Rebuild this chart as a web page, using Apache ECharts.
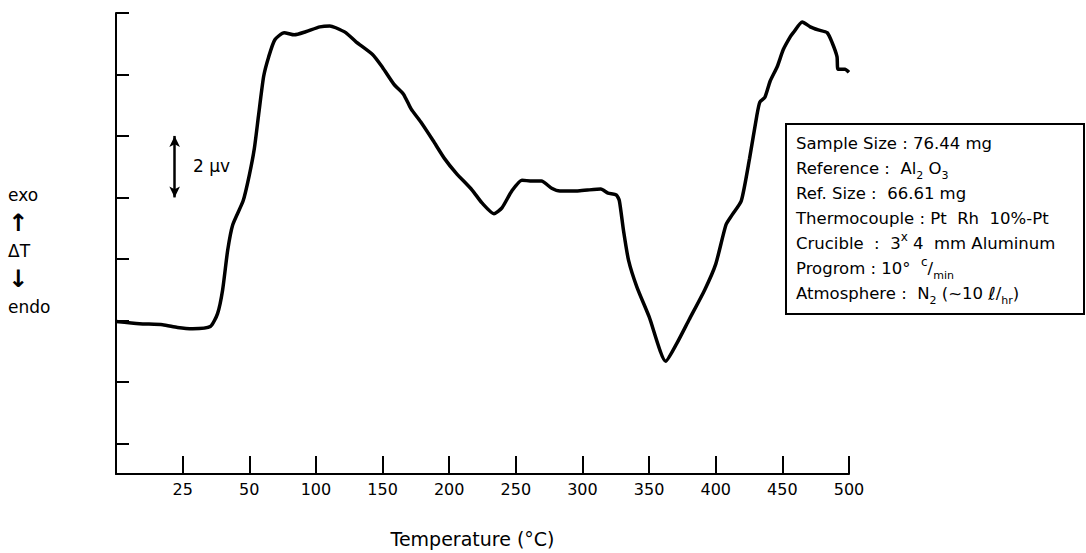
<!DOCTYPE html>
<html>
<head>
<meta charset="utf-8">
<script src="https://cdn.jsdelivr.net/npm/echarts@6/dist/echarts.min.js"></script>
<style>
  html, body { margin: 0; padding: 0; background: #fff; }
  #chart { width: 1086px; height: 553px; }
</style>
</head>
<body>
<div id="chart"></div>
<script>
// tick labels on the temperature axis (ticks are evenly spaced on the paper)
const tickTemps = [0, 25, 50, 100, 150, 200, 250, 300, 350, 400, 450, 500]
const tickLabels = ['', '25', '50', '100', '150', '200', '250', '300', '350', '400', '450', '500']

// DTA trace: temperature (°C) and ΔT (μV, 0 at the lowest tick)
const temps = [
  0, 8.8, 17.5, 23.1, 28.8, 35.4, 38.1, 40.0, 41.9, 43.8, 47.7, 50,
  53.8, 56.9, 60.8, 64.6, 69.2, 76.2, 83.8, 92.3, 103.0, 110.4, 114.9, 122.4,
  129.9, 142.5, 150, 158.6, 165.7, 171.4, 178.6, 187.9, 196.4, 205.2, 217.2, 224.6,
  233.6, 239.6, 247.0, 254.6, 262.3, 269.2, 276.9, 283.1, 296.2, 303.8, 313.8, 319.2,
  325.4, 327.7, 330.8, 334.6, 340.8, 350, 362.5, 370.8, 380, 391.7, 400, 407.7,
  412.3, 419.2, 425.4, 430.8, 433.1, 436.9, 440.8, 446.2, 450.7, 456.0, 458.2, 464.9,
  470.9, 476.9, 483.6, 487.3, 491.0, 491.8, 497.0, 500.5
]
const deltaT = [
  3.96, 3.89, 3.86, 3.77, 3.73, 3.80, 4.22, 4.99, 6.28, 7.11, 7.89, 8.72,
  9.59, 10.65, 11.94, 12.58, 13.13, 13.36, 13.29, 13.39, 13.55, 13.58, 13.52, 13.36,
  13.07, 12.65, 12.23, 11.68, 11.36, 10.88, 10.46, 9.85, 9.27, 8.79, 8.24, 7.82,
  7.47, 7.66, 8.21, 8.56, 8.53, 8.53, 8.30, 8.21, 8.21, 8.24, 8.27, 8.14,
  8.08, 7.89, 6.92, 5.95, 5.09, 4.12, 2.67, 3.25, 4.02, 4.99, 5.83, 7.11,
  7.43, 7.89, 9.27, 10.65, 11.10, 11.26, 11.78, 12.26, 12.81, 13.23, 13.36, 13.71,
  13.55, 13.45, 13.36, 13.04, 12.58, 12.17, 12.17, 12.07
]

// vertical ticks every 2 μV
const yTicks = [0, 2, 4, 6, 8, 10, 12, 14]

// 2 μV scale bar
const scaleBarTemp = 22
const scaleBarRange = [8, 10]

const infoLines = [
  'Sample Size : 76.44 mg',
  'Reference :  Al{sub|2} O{sub|3}',
  'Ref. Size :  66.61 mg',
  'Thermocouple : Pt  Rh  10%-Pt',
  'Crucible  :  3{sup|x} 4  mm Aluminum',
  'Progrom : 10°  {sup|c}/{sub|min}',
  'Atmosphere :  N{sub|2} (~10 {big|ℓ}/{sub|hr})'
]

// the printed axis is not linear in temperature: map onto tick positions
function tempToPos(t) {
  for (let i = 0; i < tickTemps.length - 1; i++) {
    if (t <= tickTemps[i + 1]) {
      return i + (t - tickTemps[i]) / (tickTemps[i + 1] - tickTemps[i])
    }
  }
  return tickTemps.length - 1
}

const seriesData = temps.map((t, i) => [tempToPos(t), deltaT[i]])

const font = "'DejaVu Sans', sans-serif"
const myChart = echarts.init(document.getElementById('chart'), null, { renderer: 'svg' })

const options = {
  animation: false,
  backgroundColor: '#fff',
  grid: { left: 116, right: 237, top: 13, bottom: 74, containLabel: false },
  xAxis: {
    type: 'value',
    min: 0,
    max: tickTemps.length - 1,
    interval: 1,
    name: 'Temperature (°C)',
    nameLocation: 'middle',
    nameGap: 55,
    nameTextStyle: { fontFamily: font, fontSize: 19, color: '#000', padding: [0, 20, 0, 0] },
    axisLine: { onZero: false, lineStyle: { color: '#000', width: 2 } },
    axisTick: { inside: true, length: 18, lineStyle: { color: '#000', width: 2 } },
    axisLabel: {
      margin: 7,
      fontFamily: font,
      fontSize: 16,
      color: '#000',
      formatter: v => tickLabels[v] || '',
    },
    splitLine: { show: false },
  },
  yAxis: {
    type: 'value',
    min: -1,
    max: 14,
    axisLine: { onZero: false, lineStyle: { color: '#000', width: 2 } },
    axisTick: {
      inside: true,
      length: 13,
      customValues: yTicks,
      lineStyle: { color: '#000', width: 2 },
    },
    axisLabel: { show: false },
    splitLine: { show: false },
  },
  series: [
    {
      type: 'line',
      data: seriesData,
      showSymbol: false,
      smooth: 0.2,
      lineStyle: { color: '#000', width: 3.5 },
      markLine: {
        silent: true,
        symbol: ['arrow', 'arrow'],
        symbolSize: [8, 11],
        lineStyle: { color: '#000', width: 2.5, type: 'solid' },
        label: { show: false },
        data: [
          [
            { coord: [tempToPos(scaleBarTemp), scaleBarRange[1]] },
            { coord: [tempToPos(scaleBarTemp), scaleBarRange[0]] },
          ],
        ],
      },
    },
  ],
  graphic: [
    {
      type: 'text',
      left: 193,
      top: 157,
      style: { text: '2 μv', font: '17px ' + font, fill: '#000' },
    },
    {
      type: 'text',
      left: 8,
      top: 181,
      style: {
        text: 'exo\n{arr|↑}\nΔT\n{arr|↓}\nendo',
        font: '17px ' + font,
        fill: '#000',
        align: 'center',
        lineHeight: 28,
        width: 48,
        rich: {
          arr: { fontSize: 24, fontWeight: 'bold', fontFamily: font, lineHeight: 28 },
        },
      },
    },
    {
      type: 'rect',
      left: 785,
      top: 123,
      shape: { width: 298, height: 190 },
      style: { fill: '#fff', stroke: '#000', lineWidth: 2 },
    },
    {
      type: 'text',
      left: 796,
      top: 131,
      style: {
        text: infoLines.join('\n'),
        font: '16.5px ' + font,
        fill: '#000',
        lineHeight: 25,
        rich: {
          sub: { fontSize: 11, fontFamily: font, verticalAlign: 'bottom', lineHeight: 25 },
          sup: { fontSize: 12, fontFamily: font, verticalAlign: 'top', lineHeight: 25 },
          big: { fontSize: 18, fontFamily: font, lineHeight: 25 },
        },
      },
    },
  ],
}

myChart.setOption(options)
</script>
</body>
</html>
